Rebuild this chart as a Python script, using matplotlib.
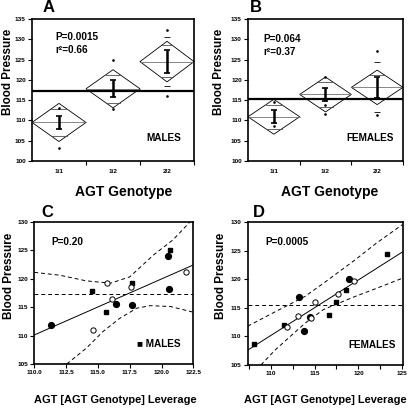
import numpy as np
import matplotlib
matplotlib.use("Agg")
import matplotlib.pyplot as plt
from matplotlib.patches import Polygon
from matplotlib.ticker import MultipleLocator

plt.rcParams['font.family'] = ['Liberation Sans', 'DejaVu Sans']
plt.rcParams['font.weight'] = 'bold'

#genotype means (panels A and B)
genotypes = ['1/1', '1/2', '2/2']

male_mean = [109.5, 117.8, 124.5]
male_ci = [4.7, 4.7, 5.0]
male_ovl_hi = [112.8, 121.2, 128.5]
male_ovl_lo = [106.2, 114.4, 120.7]
male_se = [1.7, 2.1, 2.85]
male_dots = [[113.1, 103.1], [124.8, 112.8], [132.4, 116.0]]
male_dash = [[], [], [130.6, 118.5]]
male_grand = 117.3

female_mean = [110.9, 116.4, 118.15]
female_ci = [4.3, 4.3, 4.25]
female_ovl_hi = [113.9, 119.4, 121.1]
female_ovl_lo = [107.9, 113.4, 115.2]
female_se = [1.55, 1.55, 2.65]
female_dots = [[114.6, 108.6], [120.8, 113.9, 111.7], [127.1, 111.3]]
female_dash = [[], [], [124.3, 112.1]]
female_grand = 115.3

#leverage plots (panels C and D)
c_fill_x = [111.3, 116.4, 117.7, 120.5, 120.6]
c_fill_y = [111.85, 115.55, 115.4, 124.0, 118.2]
c_sq_x = [114.5, 115.6, 117.7, 120.7]
c_sq_y = [117.8, 114.2, 119.2, 125.0]
c_open_x = [114.6, 115.75, 116.1, 117.6, 121.9]
c_open_y = [111.0, 119.2, 116.4, 118.6, 121.1]
c_fit_x = [110.0, 122.5]
c_fit_y = [110.1, 122.4]
c_grand = 117.25
c_up_x = [110.0, 112.0, 114.1, 116.0, 117.5, 119.4, 120.9, 122.0, 122.5]
c_up_y = [121.1, 120.6, 119.6, 119.2, 120.3, 124.2, 126.8, 129.4, 130.6]
c_lo_x = [112.55, 114.1, 115.4, 116.7, 118.05, 119.1, 120.7, 122.5]
c_lo_y = [105.0, 107.8, 110.7, 113.0, 114.8, 115.25, 115.1, 114.1]

d_fill_x = [113.25, 113.8, 114.5, 118.95]
d_fill_y = [116.9, 111.0, 113.4, 120.1]
d_sq_x = [108.1, 111.55, 116.65, 117.4, 118.6, 123.3]
d_sq_y = [108.6, 112.0, 113.8, 116.1, 118.1, 124.4]
d_open_x = [111.9, 113.15, 114.6, 115.05, 117.7, 119.5]
d_open_y = [111.7, 113.5, 113.3, 116.0, 117.4, 119.8]
d_fit_x = [107.4, 125.0]
d_fit_y = [107.6, 124.8]
d_grand = 115.5
d_up_x = [107.4, 110.0, 113.9, 116.0, 119.6, 122.0, 125.0]
d_up_y = [111.8, 113.9, 117.0, 119.3, 123.4, 126.3, 129.6]
d_lo_x = [108.9, 110.5, 113.9, 116.0, 119.6, 122.0, 125.0]
d_lo_y = [105.0, 107.6, 112.3, 114.7, 117.0, 118.4, 120.2]

W, H = 410, 408
fig = plt.figure(figsize=(W / 100, H / 100), dpi=100)

def px_axes(l, t, r, b):
  return fig.add_axes([l / W, 1 - b / H, (r - l) / W, (b - t) / H])

def fig_text(x, y, s, **kw):
  fig.text(x / W, 1 - y / H, s, **kw)

def style(ax):
  for sp in ax.spines.values():
    sp.set_linewidth(1.2)
  ax.tick_params(direction='out', length=3, width=0.8, labelsize=4.6, pad=1.5)
  for lab in ax.get_xticklabels() + ax.get_yticklabels():
    lab.set_fontweight('bold')

def diamonds(ax, mean, ci, ovl_hi, ovl_lo, se, dots, dash, grand):
  for i in range(len(mean)):
    m, c = mean[i], ci[i]
    xc = i + 0.5
    ax.add_patch(Polygon([(i, m), (xc, m + c), (i + 1, m), (xc, m - c)],
                         closed=True, fill=False, ec='black', lw=0.6))
    ax.plot([i, i + 1], [m, m], color='0.45', lw=0.6)
    for o in (ovl_hi[i], ovl_lo[i]):
      hw = 0.5 * (1 - abs(o - m) / c)
      ax.plot([xc - hw, xc + hw], [o, o], color='0.3', lw=0.6)
    ax.errorbar(xc, m, yerr=se[i], fmt='none', ecolor='black', elinewidth=1.8,
                capsize=2.2, capthick=1.2)
    ax.plot([xc] * len(dots[i]), dots[i], 'k.', ms=1.8)
    if dash[i]:
      ax.plot([xc] * len(dash[i]), dash[i], 'k_', ms=4, mew=0.6)
  ax.axhline(grand, color='black', lw=1.6)
  ax.set_xlim(0, 3)
  ax.set_ylim(100, 135)
  ax.set_xticks([1, 2, 3])
  ax.set_xticklabels([])
  ax.set_xticks([0.5, 1.5, 2.5], minor=True)
  ax.set_xticklabels(genotypes, minor=True)
  ax.tick_params(axis='x', which='minor', length=0, labelsize=4.6, pad=6)
  ax.yaxis.set_major_locator(MultipleLocator(5))
  style(ax)
  for lab in ax.get_xticklabels(minor=True):
    lab.set_fontweight('bold')

def leverage(ax, fx, fy, sx, sy, ox, oy, lx, ly, grand, ux, uy, dx, dy):
  ax.plot(lx, ly, color='black', lw=0.7)
  ax.axhline(grand, color='black', lw=0.7, ls=(0, (4, 3)))
  ax.plot(ux, uy, color='black', lw=0.7, ls=(0, (4, 3)))
  ax.plot(dx, dy, color='black', lw=0.7, ls=(0, (4, 3)))
  ax.plot(fx, fy, 'ko', ms=4.2)
  ax.plot(sx, sy, 'ks', ms=3.3)
  ax.plot(ox, oy, 'o', mfc='white', mec='black', mew=0.7, ms=3.8)
  ax.set_ylim(105, 130)
  ax.yaxis.set_major_locator(MultipleLocator(5))

#panel A
axA = px_axes(32, 19, 194, 161)
diamonds(axA, male_mean, male_ci, male_ovl_hi, male_ovl_lo, male_se,
         male_dots, male_dash, male_grand)
fig_text(55, 37, 'P=0.0015', fontsize=7.2, va='center')
fig_text(55, 50, 'r\u00b2=0.66', fontsize=7.2, va='center')
fig_text(181, 138, 'MALES', fontsize=7.2, va='center', ha='right')

#panel B
axB = px_axes(248, 19, 403, 161)
diamonds(axB, female_mean, female_ci, female_ovl_hi, female_ovl_lo, female_se,
         female_dots, female_dash, female_grand)
fig_text(263, 39.5, 'P=0.064', fontsize=7.2, va='center')
fig_text(263, 52, 'r\u00b2=0.37', fontsize=7.2, va='center')
fig_text(394, 138, 'FEMALES', fontsize=7.2, va='center', ha='right')

#panel C
axC = px_axes(34.3, 221.7, 193.3, 364)
leverage(axC, c_fill_x, c_fill_y, c_sq_x, c_sq_y, c_open_x, c_open_y,
         c_fit_x, c_fit_y, c_grand, c_up_x, c_up_y, c_lo_x, c_lo_y)
axC.set_xlim(110, 122.5)
axC.xaxis.set_major_locator(MultipleLocator(2.5))
axC.xaxis.set_major_formatter('{x:.1f}')
style(axC)
fig_text(51, 241.7, 'P=0.20', fontsize=7.2, va='center')
fig_text(181, 344, '\u25a0 MALES', fontsize=7.2, va='center', ha='right')

#panel D
axD = px_axes(247.7, 222.3, 403.3, 365)
leverage(axD, d_fill_x, d_fill_y, d_sq_x, d_sq_y, d_open_x, d_open_y,
         d_fit_x, d_fit_y, d_grand, d_up_x, d_up_y, d_lo_x, d_lo_y)
axD.set_xlim(107.4, 125.1)
axD.xaxis.set_major_locator(MultipleLocator(5))
axD.xaxis.set_minor_locator(MultipleLocator(2.5))
axD.tick_params(axis='x', which='minor', direction='out', length=3, width=0.8)
style(axD)
fig_text(265, 241.7, 'P=0.0005', fontsize=7.2, va='center')
fig_text(396, 345, 'FEMALES', fontsize=7.2, va='center', ha='right')

#axis titles and panel letters
for x, y in [(8, 72), (219, 72), (9, 276), (221, 276)]:
  fig_text(x, y, 'Blood Pressure', fontsize=8.4, rotation=90, ha='center', va='center')
fig_text(124, 192, 'AGT Genotype', fontsize=10, ha='center', va='center')
fig_text(330, 192, 'AGT Genotype', fontsize=10, ha='center', va='center')
fig_text(115, 400, 'AGT [AGT Genotype] Leverage', fontsize=7.9, ha='center', va='center')
fig_text(325, 400, 'AGT [AGT Genotype] Leverage', fontsize=7.9, ha='center', va='center')
for x, y, s in [(49, 7, 'A'), (256, 7, 'B'), (47, 212, 'C'), (259, 212, 'D')]:
  fig_text(x, y, s, fontsize=12, ha='center', va='center')

fig.savefig("out.png", dpi=100)
